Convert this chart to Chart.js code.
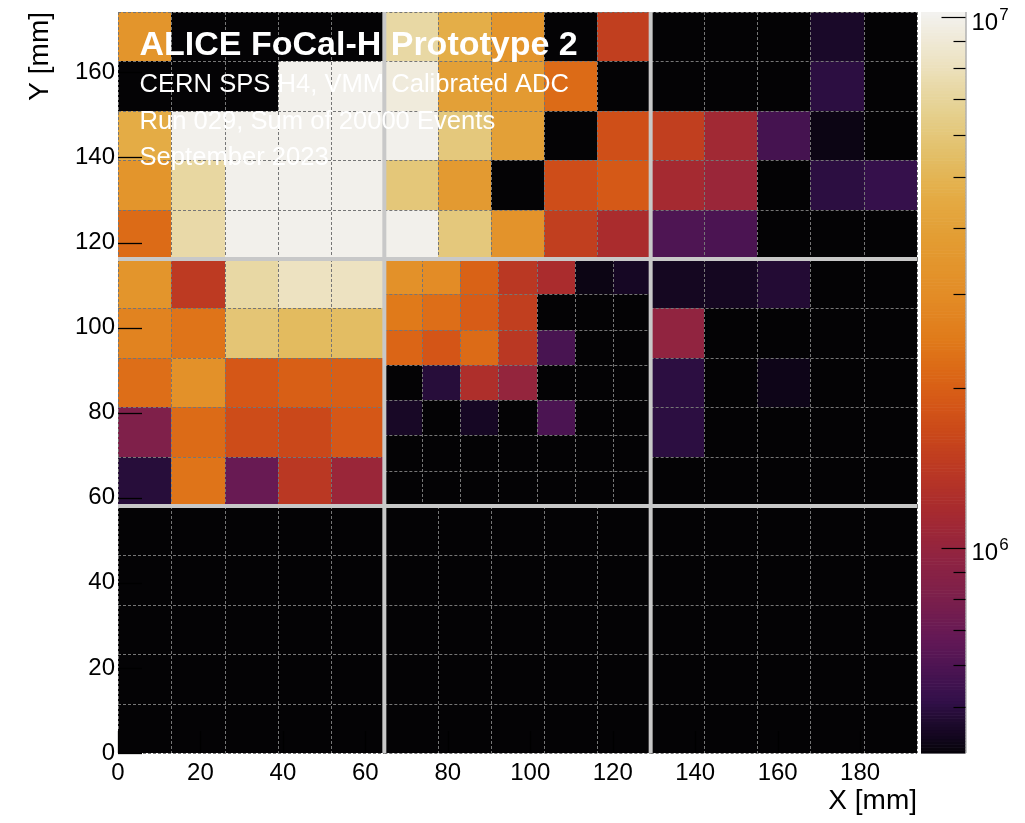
<!DOCTYPE html>
<html>
<head>
<meta charset="utf-8">
<script src="https://cdn.jsdelivr.net/npm/chart.js@4.4.0/dist/chart.umd.min.js"></script>
<style>
  html, body { margin: 0; padding: 0; background: #ffffff; }
  canvas { display: block; }
</style>
</head>
<body>
<canvas id="c" width="1025" height="823"></canvas>
<script>
// ---------------- DATA (calibrated ADC sums; rows listed top -> bottom) ----------------
const topLeft = [
  [3.4e6, 0, 0, 0, 0],
  [0, 0, 0, 1.0e7, 1.0e7],
  [4.6e6, 1.0e7, 1.0e7, 1.0e7, 1.0e7],
  [3.4e6, 7.2e6, 1.0e7, 1.0e7, 1.0e7],
  [2.2e6, 7.4e6, 1.0e7, 1.0e7, 1.0e7]
];
const topCenter = [
  [7.3e6, 4.7e6, 3.4e6, 0, 1.5e6],
  [9.3e6, 4.0e6, 3.7e6, 2.2e6, 0],
  [1.0e7, 6.1e6, 4.0e6, 0, 1.75e6],
  [6.0e6, 3.7e6, 0, 1.72e6, 1.9e6],
  [1.0e7, 6.1e6, 3.3e6, 1.5e6, 1.2e6]
];
const topRight = [
  [0, 0, 0, 4.6e5, 0],
  [0, 0, 0, 5.0e5, 0],
  [1.5e6, 1.12e6, 5.7e5, 4.25e5, 0],
  [1.15e6, 1.05e6, 0, 5.0e5, 5.2e5],
  [6.0e5, 5.9e5, 0, 0, 0]
];
const midLeft = [
  [3.4e6, 1.43e6, 7.3e6, 8.2e6, 8.2e6],
  [2.7e6, 2.35e6, 5.9e6, 5.3e6, 5.4e6],
  [2.25e6, 3.2e6, 1.88e6, 2.0e6, 2.0e6],
  [8.3e5, 2.2e6, 1.7e6, 1.65e6, 1.88e6],
  [4.9e5, 2.35e6, 7.0e5, 1.4e6, 1.05e6]
];
const midCenter = [
  [3.2e6, 3.0e6, 2.05e6, 1.4e6, 1.2e6, 4.25e5, 4.5e5],
  [2.45e6, 2.25e6, 1.95e6, 1.5e6, 0, 0, 0],
  [2.1e6, 1.85e6, 2.2e6, 1.4e6, 5.8e5, 0, 0],
  [0, 4.9e5, 1.25e6, 1.0e6, 0, 0, 0],
  [4.55e5, 0, 4.5e5, 0, 5.9e5, 0, 0],
  [0, 0, 0, 0, 0, 0, 0],
  [0, 0, 0, 0, 0, 0, 0]
];
const midRight = [
  [4.45e5, 4.45e5, 4.8e5, 0, 0],
  [9.7e5, 0, 0, 0, 0],
  [5.0e5, 0, 4.3e5, 0, 0],
  [5.0e5, 0, 0, 0, 0],
  [0, 0, 0, 0, 0]
];
const botLeft = [
  [0, 0, 0, 0, 0], [0, 0, 0, 0, 0], [0, 0, 0, 0, 0], [0, 0, 0, 0, 0], [0, 0, 0, 0, 0]
];
const botCenter = [
  [0, 0, 0, 0, 0], [0, 0, 0, 0, 0], [0, 0, 0, 0, 0], [0, 0, 0, 0, 0], [0, 0, 0, 0, 0]
];
const botRight = [
  [0, 0, 0, 0, 0], [0, 0, 0, 0, 0], [0, 0, 0, 0, 0], [0, 0, 0, 0, 0], [0, 0, 0, 0, 0]
];

const xTickValues = [0, 20, 40, 60, 80, 100, 120, 140, 160, 180];
const yTickValues = [0, 20, 40, 60, 80, 100, 120, 140, 160];
const zTickValues = [5e5, 6e5, 7e5, 8e5, 9e5, 1e6, 2e6, 3e6, 4e6, 5e6, 6e6, 7e6, 8e6, 9e6, 1e7];
const zLabelExponents = [6, 7];
const titleLines = ["ALICE FoCal-H Prototype 2", "CERN SPS H4, VMM Calibrated ADC", "Run 029, Sum of 20000 Events", "September 2023"];
const xTitle = "X [mm]";
const yTitle = "Y [mm]";

// ---------------- RANGES ----------------
const X_MAX = 193.8, Y_MAX = 174.2;
const Z_MIN = 4.1e5, Z_MAX = 1.022e7;
const modules = [
  [topLeft, topCenter, topRight],
  [midLeft, midCenter, midRight],
  [botLeft, botCenter, botRight]
];

// ---------------- STYLE ----------------
const FONT = "'Liberation Sans', Arial, Helvetica, sans-serif";
Chart.defaults.font.family = FONT;
Chart.defaults.color = '#000';
const EMPTY = '#040305';
const paletteStops = [
  [0.000, '#050308'], [0.021, '#12061e'], [0.044, '#1f0a2f'], [0.071, '#33104a'],
  [0.112, '#4a1452'], [0.152, '#621856'], [0.206, '#7a1f4c'], [0.260, '#8e2342'],
  [0.301, '#9d2737'], [0.335, '#aa2c2d'], [0.389, '#bd3a22'], [0.429, '#c9471a'],
  [0.470, '#d45617'], [0.510, '#db6616'], [0.557, '#e07a1a'], [0.618, '#e38c26'],
  [0.692, '#e39c32'], [0.753, '#e4ac45'], [0.800, '#e3bc62'], [0.848, '#e4cb82'],
  [0.895, '#e8d8a4'], [0.935, '#ede3c4'], [1.000, '#f3f2f0']
];
function hexToRgb(h) { const n = parseInt(h.slice(1), 16); return [(n >> 16) & 255, (n >> 8) & 255, n & 255]; }
const stopsRgb = paletteStops.map(([t, c]) => [t, hexToRgb(c)]);
function colorAt(t) {
  t = Math.max(0, Math.min(1, t));
  for (let i = 1; i < stopsRgb.length; i++) {
    if (t <= stopsRgb[i][0]) {
      const [t0, c0] = stopsRgb[i - 1], [t1, c1] = stopsRgb[i];
      const f = (t - t0) / (t1 - t0);
      return 'rgb(' + c0.map((v, k) => Math.round(v + (c1[k] - v) * f)).join(',') + ')';
    }
  }
  const c = stopsRgb[stopsRgb.length - 1][1];
  return 'rgb(' + c.join(',') + ')';
}
const LZMIN = Math.log10(Z_MIN), LZMAX = Math.log10(Z_MAX);
function colorFor(v) {
  if (!(v > 0)) return EMPTY;
  return colorAt((Math.log10(v) - LZMIN) / (LZMAX - LZMIN));
}

function line(ctx, x0, y0, x1, y1) { ctx.beginPath(); ctx.moveTo(x0, y0); ctx.lineTo(x1, y1); ctx.stroke(); }

const focalPlugin = {
  id: 'focal',
  beforeDatasetsDraw(chart) {
    const { ctx, chartArea: a, scales: { x, y, z } } = chart;
    const modW = X_MAX / 3, modH = Y_MAX / 3;
    ctx.save();
    // cells
    modules.forEach((row, mr) => row.forEach((cells, mc) => {
      const n = cells.length;
      const mx0 = mc * modW, myTop = Y_MAX - mr * modH;
      const cw = modW / n, ch = modH / n;
      cells.forEach((r, i) => r.forEach((v, j) => {
        const px0 = Math.round(x.getPixelForValue(mx0 + j * cw));
        const px1 = Math.round(x.getPixelForValue(mx0 + (j + 1) * cw));
        const py0 = Math.round(y.getPixelForValue(myTop - i * ch));
        const py1 = Math.round(y.getPixelForValue(myTop - (i + 1) * ch));
        ctx.fillStyle = colorFor(v);
        ctx.fillRect(px0, py0, px1 - px0, py1 - py0);
      }));
    }));
    // dashed cell borders
    ctx.strokeStyle = '#767676';
    ctx.lineWidth = 1;
    ctx.setLineDash([3, 2]);
    modules.forEach((row, mr) => row.forEach((cells, mc) => {
      const n = cells.length;
      const mx0 = mc * modW, myTop = Y_MAX - mr * modH;
      const cw = modW / n, ch = modH / n;
      const yt = y.getPixelForValue(myTop), yb = y.getPixelForValue(myTop - modH);
      const xl = x.getPixelForValue(mx0), xr = x.getPixelForValue(mx0 + modW);
      for (let k = 0; k <= n; k++) {
        const px = Math.round(x.getPixelForValue(mx0 + k * cw)) + 0.5;
        line(ctx, px, yt, px, yb);
        const py = Math.round(y.getPixelForValue(myTop - k * ch)) + 0.5;
        line(ctx, xl, py, xr, py);
      }
    }));
    ctx.setLineDash([]);
    // module separators
    ctx.strokeStyle = '#c8c8c8';
    ctx.lineWidth = 4;
    for (let k = 1; k < 3; k++) {
      const px = x.getPixelForValue(k * modW);
      line(ctx, px, a.top, px, a.bottom);
      const py = y.getPixelForValue(k * modH);
      line(ctx, a.left, py, a.right, py);
    }
    // axis tick marks (inside the frame)
    ctx.strokeStyle = '#000';
    ctx.lineWidth = 1.3;
    yTickValues.forEach(v => { const py = Math.round(y.getPixelForValue(v)) + 0.5; line(ctx, a.left, py, a.left + 24, py); });
    xTickValues.forEach(v => { const px = Math.round(x.getPixelForValue(v)) + 0.5; line(ctx, px, a.bottom, px, a.bottom - 22); });
    // overlay text
    ctx.fillStyle = '#ffffff';
    ctx.textAlign = 'left';
    ctx.textBaseline = 'alphabetic';
    ctx.font = 'bold 34px ' + FONT;
    ctx.fillText(titleLines[0], a.left + 21.5, a.top + 43);
    ctx.font = '25.6px ' + FONT;
    ctx.fillText(titleLines[1], a.left + 21.5, a.top + 79.7);
    ctx.fillText(titleLines[2], a.left + 21.5, a.top + 116.7);
    ctx.fillText(titleLines[3], a.left + 21.5, a.top + 153.2);
    // colour bar
    const cbL = z.left + 4, cbR = z.left + 48.5;
    const N = 255;
    for (let k = 0; k < N; k++) {
      const v0 = Math.pow(10, LZMIN + (LZMAX - LZMIN) * k / N);
      const v1 = Math.pow(10, LZMIN + (LZMAX - LZMIN) * (k + 1) / N);
      const vm = Math.pow(10, LZMIN + (LZMAX - LZMIN) * (k + 0.5) / N);
      const y0 = z.getPixelForValue(v0), y1 = z.getPixelForValue(v1);
      ctx.fillStyle = colorFor(vm);
      ctx.fillRect(cbL, y1, cbR - cbL, y0 - y1 + 0.6);
    }
    ctx.strokeStyle = '#8a8a8a';
    ctx.lineWidth = 1;
    line(ctx, cbR + 0.5, a.top, cbR + 0.5, a.bottom);
    ctx.strokeStyle = '#000';
    ctx.lineWidth = 1.2;
    zTickValues.forEach(v => {
      const py = Math.round(z.getPixelForValue(v)) + 0.5;
      const major = zLabelExponents.some(e => Math.abs(Math.log10(v) - e) < 1e-9);
      line(ctx, major ? cbR - 24 : cbR - 12, py, cbR, py);
    });
    ctx.fillStyle = '#000';
    zLabelExponents.forEach(e => {
      const py = z.getPixelForValue(Math.pow(10, e));
      ctx.font = '24px ' + FONT;
      ctx.fillText('10', cbR + 6, py + 12.7);
      const w = ctx.measureText('10').width;
      ctx.font = '17px ' + FONT;
      ctx.fillText(String(e), cbR + 6 + w + 1, py + 2.7);
    });
    ctx.restore();
  }
};

const zeroPad = s => { s.paddingTop = 0; s.paddingBottom = 0; s.paddingLeft = 0; s.paddingRight = 0; };

new Chart(document.getElementById('c').getContext('2d'), {
  type: 'scatter',
  data: { datasets: [{ data: [], pointRadius: 0 }] },
  options: {
    responsive: false,
    animation: false,
    devicePixelRatio: 1,
    layout: { padding: { left: 0, right: 0, top: 12, bottom: 0 } },
    plugins: { legend: { display: false }, tooltip: { enabled: false } },
    scales: {
      x: {
        type: 'linear', position: 'bottom', min: 0, max: X_MAX,
        afterBuildTicks(s) { s.ticks = xTickValues.map(v => ({ value: v })); },
        afterFit(s) { s.height = 70; zeroPad(s); },
        ticks: { font: { size: 24 }, color: '#000', padding: 6, maxRotation: 0, autoSkip: false, includeBounds: false },
        grid: { display: false, drawTicks: false },
        border: { display: false },
        title: { display: true, text: xTitle, align: 'end', color: '#000', font: { size: 28 }, padding: { top: 0, bottom: 5 } }
      },
      y: {
        type: 'linear', position: 'left', min: 0, max: Y_MAX,
        afterBuildTicks(s) { s.ticks = yTickValues.map(v => ({ value: v })); },
        afterFit(s) { s.width = 118; zeroPad(s); },
        ticks: { font: { size: 24 }, color: '#000', padding: 3, autoSkip: false, includeBounds: false },
        grid: { display: false, drawTicks: false },
        border: { display: false },
        title: { display: true, text: yTitle, align: 'end', color: '#000', font: { size: 28 }, padding: { top: 23, bottom: 0 } }
      },
      z: {
        type: 'logarithmic', position: 'right', min: Z_MIN, max: Z_MAX,
        afterFit(s) { s.width = 108; zeroPad(s); },
        ticks: { display: false },
        grid: { display: false, drawTicks: false },
        border: { display: false }
      }
    }
  },
  plugins: [focalPlugin]
});
</script>
</body>
</html>
